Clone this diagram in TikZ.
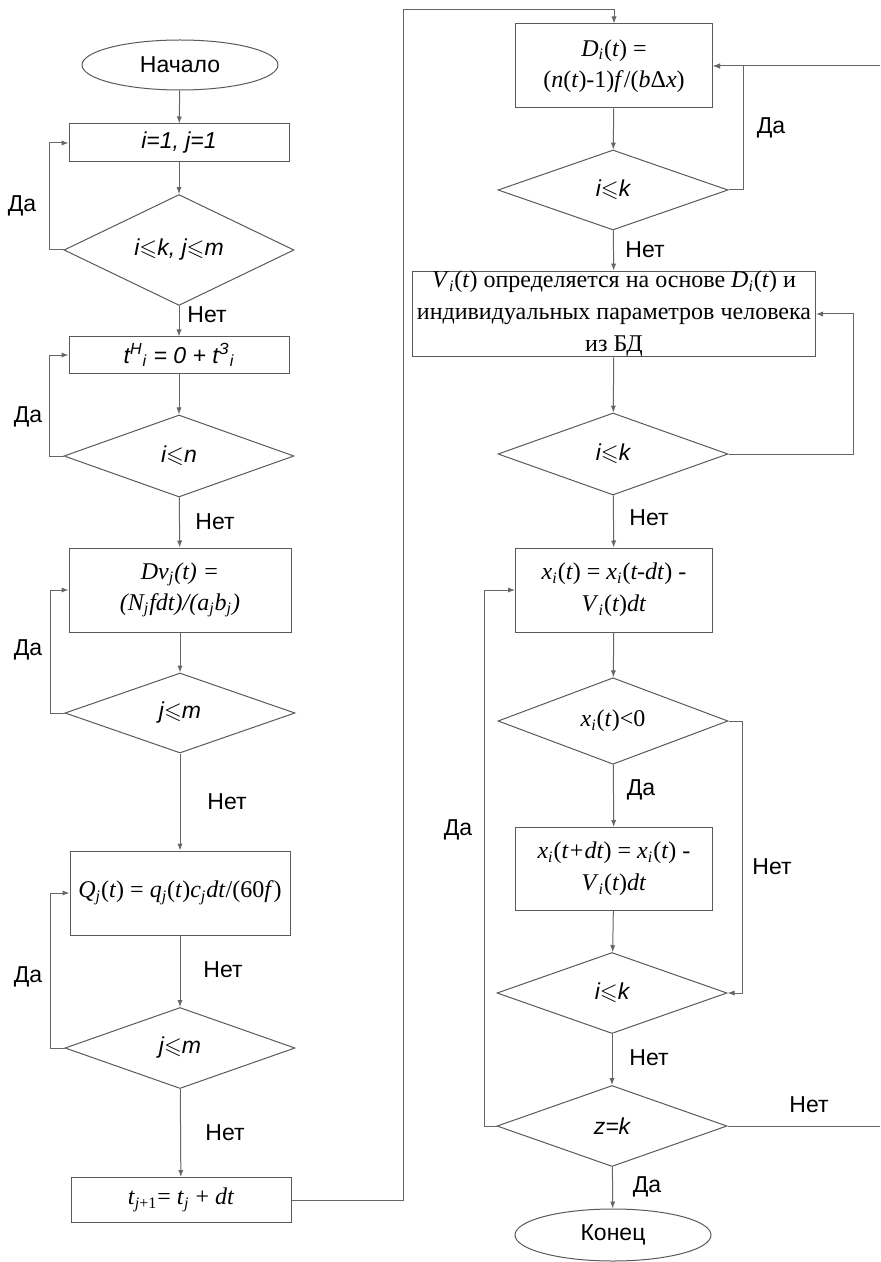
\documentclass[tikz,border=0pt]{standalone}
\usepackage{fontspec}
\usepackage{amssymb}
\setmainfont{Liberation Serif}
\setsansfont{Liberation Sans}
\usetikzlibrary{shapes.geometric,arrows.meta}

\newcommand{\ix}[1]{\textsubscript{\textit{#1}}}
\newcommand{\lesl}{$\leqslant$}

\tikzset{
	line/.style={draw=black!60, line width=0.5pt},
	arr/.style={line, -{Latex[length=3.5pt,width=2.6pt]}},
	proc/.style={rectangle, draw=black!65, line width=0.5pt, align=center, inner sep=1pt,
		minimum width=110pt, minimum height=19pt},
	frm/.style={proc, font=\fontsize{12}{15.5}\selectfont},
	cond/.style={diamond, draw=black!65, line width=0.5pt, inner sep=0pt,
		minimum width=115pt, minimum height=41pt, font=\sffamily\fontsize{11.5}{13}\selectfont\itshape},
	term/.style={ellipse, draw=black!65, line width=0.5pt, inner sep=0pt,
		minimum width=98pt, minimum height=25pt, font=\sffamily\fontsize{11.5}{13}\selectfont},
	lbl/.style={font=\sffamily\fontsize{11.5}{13}\selectfont, inner sep=0pt}
}

\begin{document}
\begin{tikzpicture}[x=0.5pt, y=-0.5pt]
	\useasboundingbox (0,0) rectangle (880,1262);

	% left column
	\node[term] (start) at (180,65) {Начало};
	\node[proc, font=\sffamily\fontsize{11.5}{13}\selectfont\itshape] (b1) at (179,143) {i=1, j=1};
	\node[cond, minimum height=43pt] (d1) at (179,250) {i\lesl k, j\lesl m};
	\node[proc, minimum height=18pt, font=\sffamily\fontsize{11.5}{13}\selectfont\itshape] (b2) at (179,355)
		{t\textsuperscript{Н}\textsubscript{i} = 0 + t\textsuperscript{З}\textsubscript{i}};
	\node[cond] (d2) at (179,456) {i\lesl n};
	\node[frm, minimum width=111pt, minimum height=42pt, font=\fontsize{12}{15.5}\selectfont\itshape] (b3) at (180,590)
		{Dv\ix{j}(t) =\\(N\ix{j}fdt)/(a\ix{j}b\ix{j})};
	\node[cond, minimum height=40pt] (d3) at (180,713) {j\lesl m};
	\node[frm, minimum height=42pt] (b4) at (180,893)
		{\textit{Q}\ix{j}(\textit{t}) = \textit{q}\ix{j}(\textit{t})\textit{c}\ix{j}\textit{dt}/(60\textit{f})};
	\node[cond, minimum height=40.5pt] (d4) at (180,1048) {j\lesl m};
	\node[frm, minimum height=22.5pt] (b5) at (181,1200)
		{\textit{t}\textsubscript{\textit{j}+1}= \textit{t}\ix{j} + \textit{dt}};

	% right column
	\node[frm, minimum width=98.5pt, minimum height=42pt] (r1) at (614,66)
		{\textit{D}\ix{i}(\textit{t}) =\\(\textit{n}(\textit{t})-1)\textit{f}/(\textit{b}Δ\textit{x})};
	\node[cond, minimum height=40pt] (r2) at (613,190) {i\lesl k};
	\node[frm, minimum width=201.5pt, minimum height=41.5pt, inner sep=0pt, font=\fontsize{12}{16}\selectfont] (r3) at (614,314)
		{\textit{V}\ix{i}(\textit{t}) определяется на основе \textit{D}\ix{i}(\textit{t}) и\\индивидуальных параметров человека\\из БД};
	\node[cond] (r4) at (613,454) {i\lesl k};
	\node[frm, minimum width=98.5pt, minimum height=42pt, font=\fontsize{12}{16}\selectfont] (r5) at (614,590)
		{\textit{x}\ix{i}(\textit{t}) = \textit{x}\ix{i}(\textit{t-dt}) -\\\textit{V}\ix{i}(\textit{t})\textit{dt}};
	\node[cond] (r6) at (613,721) {\upshape\rmfamily\fontsize{12}{14}\selectfont\textit{x}\ix{i}(\textit{t})<0};
	\node[frm, minimum width=98.5pt, minimum height=41.5pt, font=\fontsize{12}{16}\selectfont] (r7) at (614,869)
		{\textit{x}\ix{i}(\textit{t+dt}) = \textit{x}\ix{i}(\textit{t}) -\\\textit{V}\ix{i}(\textit{t})\textit{dt}};
	\node[cond, minimum height=40.5pt] (r8) at (612,993) {i\lesl k};
	\node[cond, minimum height=40.5pt] (r9) at (612,1126) {z=k};
	\node[term, minimum height=26pt] (finish) at (613,1235) {Конец};

	\coordinate (eastA) at (880,66);
	\coordinate (eastB) at (880,1126);

	% connectors, left
	\draw[arr] (start) -- (b1);
	\draw[arr] (b1) -- (d1);
	\draw[arr] (d1.west) -- ++(-14,0) |- (b1.west);
	\draw[arr] (d1) -- (b2);
	\draw[arr] (b2) -- (d2);
	\draw[arr] (d2.west) -- ++(-14,0) |- (b2.west);
	\draw[arr] (d2) -- (b3);
	\draw[arr] (b3) -- (d3);
	\draw[arr] (d3.west) -- ++(-14,0) |- (b3.west);
	\draw[arr] (d3) -- (b4);
	\draw[arr] (b4) -- (d4);
	\draw[arr] (d4.west) -- ++(-14,0) |- (b4.west);
	\draw[arr] (d4) -- (b5);
	\draw[arr] (b5.east) -| (403,10) -| (r1.north);

	% connectors, right
	\draw[arr] (r1) -- (r2);
	\draw[arr] (r2.east) -- (743,190) |- (r1.east);
	\draw[arr] (eastA) -- (r1.east);
	\draw[arr] (r2) -- (r3);
	\draw[arr] (r3) -- (r4);
	\draw[arr] (r4.east) -- (853,454) |- (r3.east);
	\draw[arr] (r4) -- (r5);
	\draw[arr] (r5) -- (r6);
	\draw[arr] (r6) -- (r7);
	\draw[arr] (r6.east) -- (742,721) |- (r8.east);
	\draw[arr] (r7) -- (r8);
	\draw[arr] (r8) -- (r9);
	\draw[arr] (r9.west) -- (484,1126) |- (r5.west);
	\draw[line] (r9.east) -- (eastB);
	\draw[arr] (r9) -- (finish);

	% labels
	\node[lbl] (yes1) at (22,206) {Да};
	\node[lbl] (no1) at (207,315) {Нет};
	\node[lbl] (yes2) at (28,417) {Да};
	\node[lbl] (no2) at (215,522) {Нет};
	\node[lbl] (yes3) at (28,650) {Да};
	\node[lbl] (no3) at (227,802) {Нет};
	\node[lbl] (no4) at (223,970) {Нет};
	\node[lbl] (yes4) at (28,977) {Да};
	\node[lbl] (no5) at (225,1133) {Нет};
	\node[lbl] (yes5) at (771,128) {Да};
	\node[lbl] (no6) at (645,250) {Нет};
	\node[lbl] (no7) at (649,518) {Нет};
	\node[lbl] (yes6) at (641,790) {Да};
	\node[lbl] (no8) at (772,867) {Нет};
	\node[lbl] (yes7) at (458,830) {Да};
	\node[lbl] (no9) at (649,1058) {Нет};
	\node[lbl] (no10) at (809,1105) {Нет};
	\node[lbl] (yes8) at (647,1187) {Да};
\end{tikzpicture}
\end{document}
